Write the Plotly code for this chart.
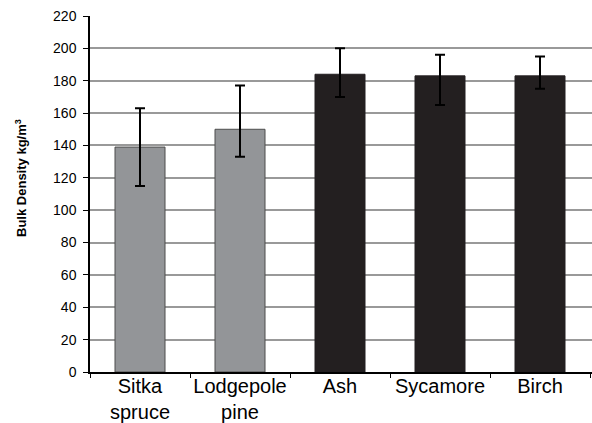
import plotly.graph_objects as go

categories = ["Sitka<br>spruce", "Lodgepole<br>pine", "Ash", "Sycamore", "Birch"]
density = [139, 150, 184, 183, 183]
err_plus = [24, 27, 16, 13, 12]
err_minus = [24, 17, 14, 18, 8]
bar_colors = ["#939598", "#939598", "#231f20", "#231f20", "#231f20"]
line_colors = ["#4d4d4d", "#4d4d4d", "#231f20", "#231f20", "#231f20"]
y_ticks = [0, 20, 40, 60, 80, 100, 120, 140, 160, 180, 200, 220]
y_title = "<b>Bulk Density kg/m<sup>3</sup></b>"

fig = go.Figure()
fig.add_trace(go.Bar(
    x=categories, y=density, width=0.5,
    marker=dict(color=bar_colors, line=dict(color=line_colors, width=1)),
    error_y=dict(type="data", array=err_plus, arrayminus=err_minus, symmetric=False,
                 color="black", thickness=2, width=5),
))

fig.add_annotation(
    text=y_title, textangle=-90, xref="paper", yref="paper",
    x=-0.1375, y=0.545, xanchor="center", yanchor="middle", showarrow=False,
    font=dict(size=13),
)

fig.update_layout(
    width=592, height=423,
    margin=dict(l=90, r=0, t=16, b=51, autoexpand=False),
    plot_bgcolor="white", paper_bgcolor="white",
    showlegend=False,
    font=dict(family="Liberation Sans, Arial, sans-serif", color="black"),
    xaxis=dict(
        range=[-0.5, 4.52], showline=True, linecolor="black", linewidth=1.5,
        ticks="outside", tickson="boundaries", ticklen=4, tickcolor="black", tickwidth=1,
        tickfont=dict(size=20), tickangle=0, showgrid=False, automargin=False,
        ticklabelstandoff=-5,
    ),
    yaxis=dict(
        range=[0, 220], tickvals=y_ticks, showline=True, linecolor="black", linewidth=1.5,
        ticks="outside", ticklen=5, tickcolor="black", tickwidth=1,
        tickfont=dict(size=14), showgrid=True, gridcolor="#999999", gridwidth=1.5,
        zeroline=False, automargin=False, ticklabelstandoff=4,
    ),
)

fig.write_html(
    "out.html",
    config={"displayModeBar": False},
    post_script="document.body.style.margin='0';document.body.style.overflow='hidden';",
)
